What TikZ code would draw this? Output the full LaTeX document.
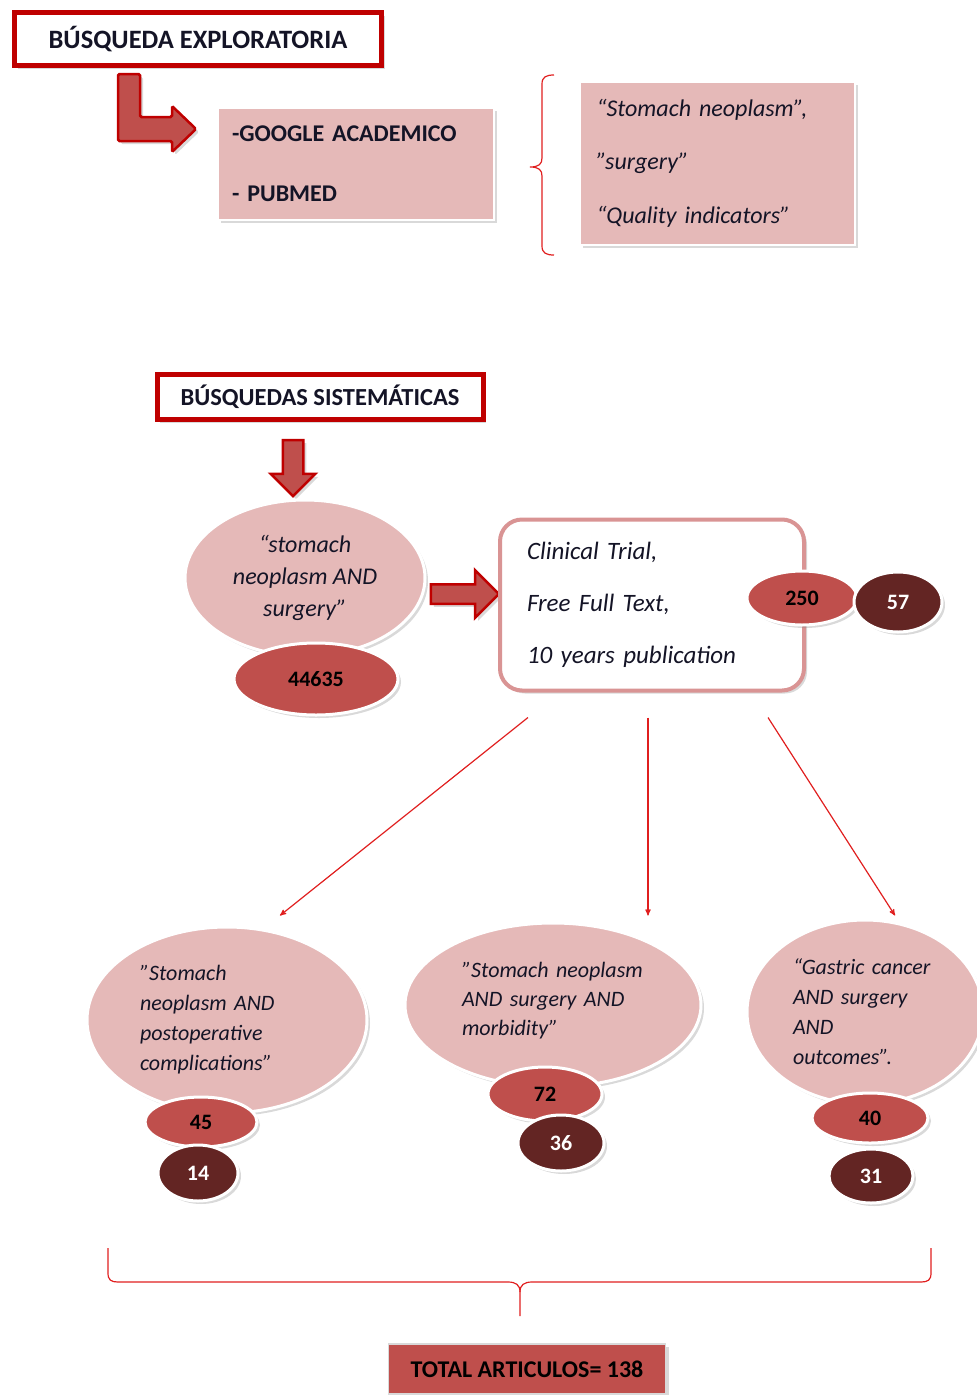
\documentclass[tikz,border=0pt]{standalone}
\usepackage{fontspec}
\setmainfont{Carlito}
\usepackage{tikz}
\usetikzlibrary{arrows}
\usetikzlibrary{shapes.geometric,shapes.arrows,shadows,calc}
\definecolor{rojo}{rgb}{0.75, 0, 0}
\definecolor{rosa}{rgb}{0.9, 0.725, 0.72}
\definecolor{teja}{rgb}{0.75, 0.31, 0.30}
\definecolor{vino}{rgb}{0.39, 0.145, 0.137}
\definecolor{borde}{rgb}{0.85, 0.58, 0.58}
\definecolor{flecha}{rgb}{0.88, 0.12, 0.12}
\definecolor{tinta}{rgb}{0.08, 0.08, 0.15}

\begin{document}
\begin{tikzpicture}[x=1pt, y=-1pt, >=stealth', thin]
  \tikzstyle{sombra}=[drop shadow={shadow xshift=3pt, shadow yshift=-3pt, opacity=0.3}]
  \tikzstyle{titulo}=[rectangle, draw=rojo, line width=5pt, fill=white, sombra, text=tinta, inner sep=0pt]
  \tikzstyle{caja}=[rectangle, draw=white, line width=2pt, fill=rosa, sombra, text=tinta, align=left, inner ysep=0pt]
  \tikzstyle{globo}=[ellipse, draw=white, line width=3pt, fill=rosa, sombra, inner sep=0pt, text=tinta, align=left, font=\fontsize{22}{30}\selectfont\itshape]
  \tikzstyle{cifra}=[ellipse, draw=white, line width=3pt, fill=teja, sombra, inner sep=0pt, text=black, font=\fontsize{22}{26}\selectfont\bfseries]
  \tikzstyle{cifrab}=[cifra, fill=vino, text=white]
  \tikzstyle{bloque}=[single arrow, draw=rojo, line width=2.5pt, fill=teja, sombra, inner xsep=0pt]
  \tikzstyle{hilo}=[->, color=flecha, line width=1.2pt]
  \tikzstyle{llave}=[draw=flecha, line width=1.2pt]

  \useasboundingbox (0,0) rectangle (977,1395);

  % busqueda exploratoria
	\node[titulo, minimum width=367pt, minimum height=53pt, font=\fontsize{26.5}{30}\selectfont\bfseries] (expl) at (198,39) {BÚSQUEDA EXPLORATORIA};
	\node[caja, text width=248pt, inner xsep=14pt, minimum height=112pt, font=\fontsize{24}{60}\selectfont\bfseries] (bd) at (356,164) {-GOOGLE ACADEMICO\\- PUBMED};
	\node[caja, text width=241pt, inner xsep=17pt, minimum height=163pt, font=\fontsize{24}{53.5}\selectfont\itshape] (terms) at (717,163) {“Stomach neoplasm”,\\”surgery”\\“Quality indicators”};
	\draw[rojo, line width=2.5pt, fill=teja, sombra, rounded corners=1.5pt] (118,74) -- (140,74) -- (140,117) -- (172,117) -- (172,106) -- (196,129) -- (172,152) -- (172,141) -- (118,141) -- cycle;
	\draw[llave] (554,75) .. controls (546,75) and (542,77) .. (542,84) -- (542,158) .. controls (542,164) and (539,167) .. (530,167) .. controls (539,167) and (542,170) .. (542,176) -- (542,246) .. controls (542,253) and (546,255) .. (554,255);

  % busquedas sistematicas
	\node[titulo, minimum width=326pt, minimum height=45pt, font=\fontsize{24.5}{30}\selectfont\bfseries] (sist) at (320,397) {BÚSQUEDAS SISTEMÁTICAS\hspace{10pt}};
	\node[bloque, rotate=-90, minimum height=56pt, inner ysep=9pt, single arrow head extend=12pt] (bajada) at (293,463) {};
	\node[globo, align=center, minimum width=240pt, minimum height=156pt, font=\fontsize{24}{32}\selectfont\itshape] (search) at (305,578) {“stomach\\neoplasm AND\\surgery”};
	\node[cifra, minimum width=164pt, minimum height=72pt] (n44635) at (316,679) {44635};
	\node[bloque, minimum height=68pt, inner ysep=8.5pt, single arrow head extend=14pt] (paso) at (460,594) {};
	\node[rectangle, rounded corners=22pt, draw=borde, line width=4pt, fill=white, sombra, text=tinta, text width=250pt, inner xsep=27pt, minimum height=171pt, align=left, font=\fontsize{25}{52}\selectfont\itshape] (filt) at (652,605) {Clinical Trial,\\Free Full Text,\\10 years publication};
	\node[cifra, minimum width=110pt, minimum height=54pt] (n250) at (802,598) {250};
	\node[cifrab, minimum width=88pt, minimum height=60pt] (n57) at (898,602) {57};

  % tres busquedas
	\node[globo, text width=174pt, minimum width=280pt, minimum height=186pt] (compl) at (227,1020) {"Stomach\\neoplasm AND\\postoperative\\complications”};
	\node[cifra, minimum width=112pt, minimum height=50pt] (n45) at (201,1122) {45};
	\node[cifrab, minimum width=80pt, minimum height=56pt] (n14) at (198,1173) {14};
	\node[globo, text width=182pt, minimum width=296pt, minimum height=164pt, font=\fontsize{22}{29}\selectfont\itshape] (morb) at (553,1005) {"Stomach neoplasm\\AND surgery AND\\morbidity”\\[-16pt]\mbox{}};
	\node[cifra, minimum width=114pt, minimum height=54pt] (n72) at (545,1094) {72};
	\node[cifrab, minimum width=86pt, minimum height=56pt] (n36) at (561,1143) {36};
	\node[globo, text width=144pt, minimum width=236pt, minimum height=184pt] (outc) at (865,1012) {“Gastric cancer\\AND surgery\\AND\\outcomes”.};
	\node[cifra, minimum width=116pt, minimum height=50pt] (n40) at (870,1118) {40};
	\node[cifrab, minimum width=84pt, minimum height=54pt] (n31) at (871,1176) {31};

	\path[hilo]
		($(filt.south)+(-124,25)$) edge ($(compl.north)+(53,-10)$)
		($(filt.south)+(-4,25)$) edge ($(morb.north)+(95,-6)$)
		($(filt.south)+(116,25)$) edge ($(outc.north)+(30,-3)$)
		;

  % total
	\draw[llave] (108,1248) -- (108,1273) .. controls (108,1280) and (111,1282) .. (118,1282) -- (508,1282) .. controls (516,1282) and (520,1285) .. (520,1292) -- (520,1316);
	\draw[llave] (931,1248) -- (931,1273) .. controls (931,1280) and (928,1282) .. (921,1282) -- (532,1282) .. controls (524,1282) and (520,1285) .. (520,1292);
	\node[rectangle, draw=black!15, line width=1.5pt, fill=teja, sombra, minimum width=277pt, minimum height=50pt, text=black, font=\fontsize{24}{28}\selectfont\bfseries] (total) at (527,1369) {TOTAL ARTICULOS= 138\hspace{8pt}};

\end{tikzpicture}
\end{document}
